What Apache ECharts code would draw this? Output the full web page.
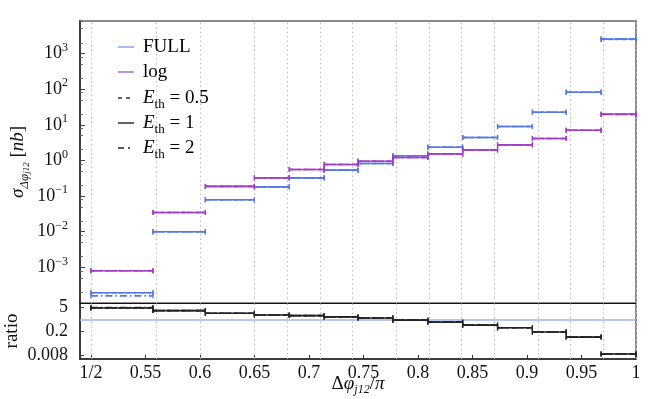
<!DOCTYPE html>
<html>
<head>
<meta charset="utf-8">
<script src="https://cdn.jsdelivr.net/npm/echarts@6/dist/echarts.min.js"></script>
<style>
  html, body { margin: 0; padding: 0; background: #fff; }
  #chart { width: 664px; height: 399px; }
</style>
</head>
<body>
<div id="chart"></div>
<script>
// bin edges in Δφ/π
const binEdges = [0.5, 0.557, 0.605, 0.650, 0.682, 0.714, 0.745, 0.777, 0.809, 0.841, 0.873, 0.905, 0.936, 0.968, 1.0];

// cross sections [nb], one value per bin
const fullEth05 = [1.94e-4, 0.0100, 0.0786, 0.182, 0.325, 0.535, 0.824, 1.35, 2.36, 4.41, 8.98, 22.6, 82.2, 2500];
const fullEth1  = [1.94e-4, 0.0100, 0.0786, 0.182, 0.325, 0.535, 0.824, 1.35, 2.36, 4.41, 8.98, 22.6, 82.2, 2565];
const fullEth2  = [1.58e-4, 0.0100, 0.0786, 0.182, 0.325, 0.535, 0.824, 1.35, 2.36, 4.41, 8.98, 22.6, 82.2, 2565];
const logEth05  = [8.0e-4, 0.0348, 0.187, 0.325, 0.559, 0.773, 0.955, 1.21, 1.53, 1.98, 2.74, 4.14, 7.07, 19.6];
const logEth1   = [8.0e-4, 0.0348, 0.187, 0.325, 0.559, 0.773, 0.955, 1.21, 1.53, 1.98, 2.74, 4.14, 7.07, 20.2];
const logEth2   = [8.0e-4, 0.0348, 0.187, 0.325, 0.559, 0.773, 0.955, 1.21, 1.53, 1.98, 2.74, 4.14, 7.07, 19.6];

// ratio log / FULL
const ratioEth05 = [4.7, 3.3, 2.3, 1.83, 1.67, 1.40, 1.22, 0.90, 0.69, 0.46, 0.32, 0.18, 0.091, 0.0092];
const ratioEth1  = [4.7, 3.3, 2.3, 1.83, 1.67, 1.40, 1.22, 0.90, 0.69, 0.46, 0.32, 0.18, 0.091, 0.0092];
const ratioEth2  = [5.0, 3.3, 2.3, 1.83, 1.67, 1.40, 1.22, 0.90, 0.69, 0.46, 0.32, 0.18, 0.091, 0.0092];

// ticks
const xTickValues = [0.5, 0.55, 0.6, 0.65, 0.7, 0.75, 0.8, 0.85, 0.9, 0.95, 1];
const yMajorTicks = [1e-3, 1e-2, 1e-1, 1, 10, 100, 1000];
const yMinorTicks = [2e-4, 5e-4, 8e-4, 2e-3, 5e-3, 8e-3, 2e-2, 5e-2, 8e-2, 0.2, 0.5, 0.8, 2, 5, 8, 20, 50, 80, 200, 500, 800, 2000, 5000, 8000];
const ratioTicks = [0.008, 0.2, 5];

const FONT = "Liberation Serif";
const BLUE = "#5577e6";
const PURPLE = "#a33cc6";

function binData(vals) {
  return vals.map((v, i) => [binEdges[i], binEdges[i + 1], v]);
}

function stepRender(color, dash, width) {
  return function (params, api) {
    const p0 = api.coord([api.value(0), api.value(2)]);
    const p1 = api.coord([api.value(1), api.value(2)]);
    const st = { stroke: color, lineWidth: width, lineDash: dash };
    const cap = { stroke: color, lineWidth: 1.2 };
    return {
      type: "group",
      children: [
        { type: "line", shape: { x1: p0[0], y1: p0[1], x2: p1[0], y2: p1[1] }, style: st },
        { type: "line", shape: { x1: p0[0], y1: p0[1] - 2.5, x2: p0[0], y2: p0[1] + 2.5 }, style: cap },
        { type: "line", shape: { x1: p1[0], y1: p1[1] - 2.5, x2: p1[0], y2: p1[1] + 2.5 }, style: cap }
      ]
    };
  };
}

function stepSeries(name, vals, color, dash, grid, opacity) {
  return {
    name: name,
    type: "custom",
    xAxisIndex: grid,
    yAxisIndex: grid === 0 ? 0 : 2,
    renderItem: stepRender(color, dash, 1.6),
    itemStyle: { opacity: opacity },
    silent: true,
    data: binData(vals),
    z: 5
  };
}

const DASH = [4, 3];
const DASHDOT = [7, 3, 1.5, 3];

const supLabel = function (v) {
  const e = Math.round(Math.log10(v));
  return "{b|10}{s|" + (e < 0 ? "\u2212" + (-e) : e) + "}";
};

const gridLines = {
  silent: true,
  symbol: "none",
  label: { show: false },
  lineStyle: { color: "#bcbcbc", type: [1.5, 3], width: 1 },
  data: binEdges.map((x) => ({ xAxis: x }))
};

const chart = echarts.init(document.getElementById("chart"), null, { renderer: "canvas" });

const option = {
  animation: false,
  backgroundColor: "#fff",
  textStyle: { fontFamily: FONT },
  grid: [
    { left: 80, right: 28, top: 21, height: 282, show: true, borderColor: "#8c8c8c", borderWidth: 2, backgroundColor: "transparent", containLabel: false, outerBoundsMode: "none" },
    { left: 80, right: 28, top: 303, height: 56, show: true, borderColor: "#8c8c8c", borderWidth: 2, backgroundColor: "transparent", containLabel: false, outerBoundsMode: "none" }
  ],
  xAxis: [
    {
      gridIndex: 0, type: "value", min: 0.49, max: 1,
      axisLine: { lineStyle: { color: "#111", width: 1.2 } },
      axisTick: { show: false }, axisLabel: { show: false }, splitLine: { show: false }
    },
    {
      gridIndex: 1, type: "value", min: 0.49, max: 1,
      axisLine: { lineStyle: { color: "#222", width: 1.5 } },
      axisTick: { show: true, inside: true, length: 4, customValues: xTickValues, lineStyle: { color: "#333" } },
      axisLabel: {
        customValues: xTickValues, margin: 5, color: "#111", fontFamily: FONT, fontSize: 18,
        formatter: (v) => (v === 0.5 ? "1/2" : String(v))
      },
      splitLine: { show: false },
      name: "{d|\u0394}{p|\u03c6}{sub|j12}{d|/}{p|\u03c0}",
      nameLocation: "middle",
      nameMoveOverlap: false,
      nameGap: 13,
      nameTextStyle: {
        rich: {
          d: { fontFamily: FONT, fontSize: 19, color: "#111", lineHeight: 24 },
          p: { fontFamily: FONT, fontSize: 19, fontStyle: "italic", color: "#111", lineHeight: 24 },
          sub: { fontFamily: FONT, fontSize: 12, fontStyle: "italic", color: "#111", lineHeight: 12, verticalAlign: "bottom" }
        }
      }
    }
  ],
  yAxis: [
    {
      gridIndex: 0, type: "log", logBase: 10, min: 1e-4, max: 8200,
      axisLine: { show: true, lineStyle: { color: "#222", width: 1.5 } },
      axisTick: { show: true, inside: true, length: 5, customValues: yMajorTicks, lineStyle: { color: "#444" } },
      axisLabel: {
        customValues: yMajorTicks, margin: 12, formatter: supLabel,
        rich: {
          b: { fontFamily: FONT, fontSize: 18, color: "#111", lineHeight: 24 },
          s: { fontFamily: FONT, fontSize: 12, color: "#111", lineHeight: 12, verticalAlign: "top" }
        }
      },
      splitLine: { show: false },
      name: "{s|\u03c3}{sub|\u0394\u03c6}{ss|j12}{n| [}{ni|nb}{n|]}",
      nameLocation: "middle",
      nameMoveOverlap: false,
      nameGap: 49,
      nameTextStyle: {
        rich: {
          s: { fontFamily: FONT, fontSize: 19, fontStyle: "italic", color: "#111", lineHeight: 26 },
          sub: { fontFamily: FONT, fontSize: 13, fontStyle: "italic", color: "#111", lineHeight: 14, verticalAlign: "bottom" },
          ss: { fontFamily: FONT, fontSize: 9, fontStyle: "italic", color: "#111", lineHeight: 6, verticalAlign: "bottom" },
          n: { fontFamily: FONT, fontSize: 19, color: "#111", lineHeight: 26 },
          ni: { fontFamily: FONT, fontSize: 19, fontStyle: "italic", color: "#111", lineHeight: 26 }
        }
      }
    },
    {
      gridIndex: 0, type: "log", logBase: 10, min: 1e-4, max: 8200, position: "left", offset: 0,
      axisLine: { show: false },
      axisTick: { show: true, inside: true, length: 3, customValues: yMinorTicks, lineStyle: { color: "#666" } },
      axisLabel: { show: false },
      splitLine: { show: false }
    },
    {
      gridIndex: 1, type: "log", logBase: 10, min: 0.0047, max: 9.2,
      axisLine: { show: true, lineStyle: { color: "#222", width: 1.5 } },
      axisTick: { show: true, inside: true, length: 4, customValues: ratioTicks, lineStyle: { color: "#444" } },
      axisLabel: {
        customValues: ratioTicks, margin: 12, color: "#111", fontFamily: FONT, fontSize: 18,
        formatter: (v) => String(v)
      },
      splitLine: { show: false },
      name: "ratio",
      nameLocation: "middle",
      nameMoveOverlap: false,
      nameGap: 58,
      nameTextStyle: { fontFamily: FONT, fontSize: 19, color: "#111" }
    }
  ],
  series: [
    {
      name: "grid-top", type: "line", xAxisIndex: 0, yAxisIndex: 0, data: [],
      markLine: gridLines, z: 1
    },
    {
      name: "grid-bottom", type: "line", xAxisIndex: 1, yAxisIndex: 2, data: [],
      markLine: Object.assign({}, gridLines, {
        data: binEdges.map((x) => ({ xAxis: x })).concat([
          { yAxis: 1, lineStyle: { color: "#9fb2f0", type: "solid", width: 1.6 } }
        ])
      }),
      z: 1
    },
    stepSeries("FULL 0.5", fullEth05, BLUE, DASH, 0, 0.75),
    stepSeries("FULL 1", fullEth1, BLUE, null, 0, 0.75),
    stepSeries("FULL 2", fullEth2, BLUE, DASHDOT, 0, 0.75),
    stepSeries("log 0.5", logEth05, PURPLE, DASH, 0, 0.8),
    stepSeries("log 1", logEth1, PURPLE, null, 0, 0.8),
    stepSeries("log 2", logEth2, PURPLE, DASHDOT, 0, 0.8),
    stepSeries("ratio 0.5", ratioEth05, "#222", DASH, 1, 0.85),
    stepSeries("ratio 1", ratioEth1, "#222", null, 1, 0.85),
    stepSeries("ratio 2", ratioEth2, "#222", DASHDOT, 1, 0.85)
  ],
  graphic: (function () {
    const rows = [
      { y: 47, color: "#7f9bee", dash: null, text: "{r|FULL}" },
      { y: 72, color: "#b35fd0", dash: null, text: "{r|log}" },
      { y: 98, color: "#222", dash: [4, 4], text: "{e|E}{sub|th}{r| = 0.5}" },
      { y: 123, color: "#222", dash: null, text: "{e|E}{sub|th}{r| = 1}" },
      { y: 148, color: "#222", dash: [6, 4, 2, 4], text: "{e|E}{sub|th}{r| = 2}" }
    ];
    const els = [];
    rows.forEach((r) => {
      els.push({
        type: "line", silent: true, z: 10,
        shape: { x1: 118, y1: r.y, x2: 134, y2: r.y },
        style: { stroke: r.color, lineWidth: 1.4, lineDash: r.dash }
      });
      els.push({
        type: "text", silent: true, z: 10, x: 143, y: r.y,
        style: {
          text: r.text, verticalAlign: "middle", align: "left",
          rich: {
            r: { fontFamily: FONT, fontSize: 19, color: "#111", lineHeight: 26 },
            e: { fontFamily: FONT, fontSize: 19, fontStyle: "italic", color: "#111", lineHeight: 26 },
            sub: { fontFamily: FONT, fontSize: 13, color: "#111", lineHeight: 12, verticalAlign: "bottom" }
          }
        }
      });
    });
    return els;
  })()
};

chart.setOption(option);
</script>
</body>
</html>
